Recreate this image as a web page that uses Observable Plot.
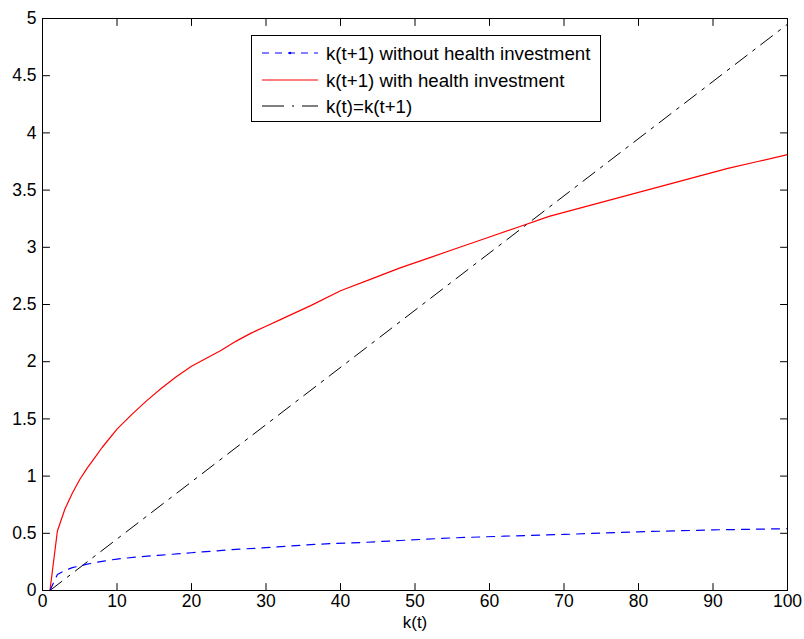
<!DOCTYPE html>
<html>
<head>
<meta charset="utf-8">
<script src="https://cdn.jsdelivr.net/npm/d3@7"></script>
<script src="https://cdn.jsdelivr.net/npm/@observablehq/plot@0.6"></script>
<style>
  html, body { margin: 0; padding: 0; background: #fff; }
  #wrap { position: relative; width: 804px; height: 639px; font-family: "Liberation Sans", Arial, sans-serif; }
  #legend { position: absolute; left: 251px; top: 35px; width: 350px; height: 87px; box-sizing: border-box; border: 1px solid #000; background: #fff; }
</style>
</head>
<body>
<div id="wrap"></div>
<script>
// k(t+1) with health investment (red, solid)
const redX = [1, 2, 3, 4, 5, 6, 7, 8, 10, 12, 14, 16, 18, 20, 22, 24, 26, 28, 30, 32, 36, 40, 44, 48, 52, 56, 60, 64, 68, 72, 76, 80, 84, 88, 92, 96, 100];
const redY = [0, 0.52, 0.71, 0.85, 0.97, 1.07, 1.16, 1.25, 1.41, 1.54, 1.66, 1.77, 1.87, 1.96, 2.03, 2.10, 2.18, 2.25, 2.31, 2.37, 2.49, 2.62, 2.72, 2.82, 2.91, 3.00, 3.09, 3.18, 3.27, 3.34, 3.41, 3.48, 3.55, 3.62, 3.69, 3.75, 3.81];
// k(t+1) without health investment (blue, dashed)
const blueX = [1, 2, 3, 4, 6, 8, 10, 13, 16, 20, 25, 30, 37, 43, 48, 55, 62, 70, 80, 90, 100];
const blueY = [0, 0.14, 0.175, 0.20, 0.23, 0.255, 0.275, 0.295, 0.31, 0.33, 0.355, 0.375, 0.405, 0.42, 0.437, 0.46, 0.475, 0.49, 0.513, 0.53, 0.54];
// k(t)=k(t+1) (black, dash-dot)
const diagX = [1, 100];
const diagY = [0, 4.95];

const xTicks = [0, 10, 20, 30, 40, 50, 60, 70, 80, 90, 100];
const yTicks = [0, 0.5, 1, 1.5, 2, 2.5, 3, 3.5, 4, 4.5, 5];
const seriesNames = ["k(t+1) without health investment", "k(t+1) with health investment", "k(t)=k(t+1)"];
const xLabel = "k(t)";

const toRows = (xs, ys) => xs.map((x, i) => ({x, y: ys[i]}));
const red = toRows(redX, redY);
const blue = toRows(blueX, blueY);
const diag = toRows(diagX, diagY);

// straight tick shape for inward tick marks
const tickShape = {draw(context, l) { context.moveTo(0, 0); context.lineTo(0, -l); }};
const tickOpts = {length: 7, anchor: "start", shape: tickShape, stroke: "#000", strokeWidth: 1};

const chart = Plot.plot({
  width: 804,
  height: 639,
  marginLeft: 42,
  marginRight: 17,
  marginTop: 18,
  marginBottom: 49,
  x: {domain: [0, 100]},
  y: {domain: [0, 5]},
  style: {fontFamily: "'Liberation Sans', Arial, sans-serif", fontSize: "17px", color: "#000", background: "#fff"},
  marks: [
    // inward ticks on all four sides
    Plot.vector(xTicks, {...tickOpts, anchor: "end", x: d => d, frameAnchor: "bottom", rotate: 180}),
    Plot.vector(xTicks, {...tickOpts, x: d => d, frameAnchor: "top", rotate: 180}),
    Plot.vector(yTicks, {...tickOpts, y: d => d, frameAnchor: "left", rotate: 90}),
    Plot.vector(yTicks, {...tickOpts, y: d => d, frameAnchor: "right", rotate: -90}),
    // tick labels
    Plot.axisX({anchor: "bottom", ticks: xTicks, tickSize: 0, tickPadding: 4, label: null, tickFormat: d => String(d), fill: "#000", fontSize: 17.5}),
    Plot.axisY({anchor: "left", ticks: yTicks, tickSize: 0, tickPadding: 6, label: null, tickFormat: d => String(d), fill: "#000", fontSize: 17.5}),
    Plot.text([xLabel], {frameAnchor: "bottom", dy: 37, text: d => d, fill: "#000", fontSize: 17}),
    // series
    Plot.line(diag, {x: "x", y: "y", stroke: "#000", strokeWidth: 1, strokeDasharray: "15,7,3,7"}),
    Plot.line(red, {x: "x", y: "y", stroke: "#ff0000", strokeWidth: 1.2}),
    Plot.line(blue, {x: "x", y: "y", stroke: "#0000ff", strokeWidth: 1.2, strokeDasharray: "8,7"}),
    Plot.frame({stroke: "#000", strokeWidth: 1})
  ]
});

const wrap = document.getElementById("wrap");
wrap.appendChild(chart);

// legend inside the axes
const legendStyles = [
  {stroke: "#0000ff", dash: "7,6", dot: true},
  {stroke: "#ff0000", dash: null, dot: false},
  {stroke: "#000", dash: "22,8,2,8", dot: false}
];
const rowY = [17, 44, 70];
const ns = "http://www.w3.org/2000/svg";
const leg = document.createElement("div");
leg.id = "legend";
const lsvg = document.createElementNS(ns, "svg");
lsvg.setAttribute("width", 348);
lsvg.setAttribute("height", 85);
seriesNames.forEach((name, i) => {
  const ln = document.createElementNS(ns, "line");
  ln.setAttribute("x1", 10);
  ln.setAttribute("x2", 66);
  ln.setAttribute("y1", rowY[i]);
  ln.setAttribute("y2", rowY[i]);
  ln.setAttribute("stroke", legendStyles[i].stroke);
  ln.setAttribute("stroke-width", 1.2);
  if (legendStyles[i].dash) ln.setAttribute("stroke-dasharray", legendStyles[i].dash);
  lsvg.appendChild(ln);
  if (legendStyles[i].dot) {
    const c = document.createElementNS(ns, "circle");
    c.setAttribute("cx", 38);
    c.setAttribute("cy", rowY[i]);
    c.setAttribute("r", 1.3);
    c.setAttribute("fill", legendStyles[i].stroke);
    lsvg.appendChild(c);
  }
  const tx = document.createElementNS(ns, "text");
  tx.setAttribute("x", 74);
  tx.setAttribute("y", rowY[i]);
  tx.setAttribute("dy", "0.35em");
  tx.setAttribute("font-size", "18.7px");
  tx.setAttribute("font-family", "'Liberation Sans', Arial, sans-serif");
  tx.setAttribute("fill", "#000");
  tx.textContent = name;
  lsvg.appendChild(tx);
});
leg.appendChild(lsvg);
wrap.appendChild(leg);
</script>
</body>
</html>
